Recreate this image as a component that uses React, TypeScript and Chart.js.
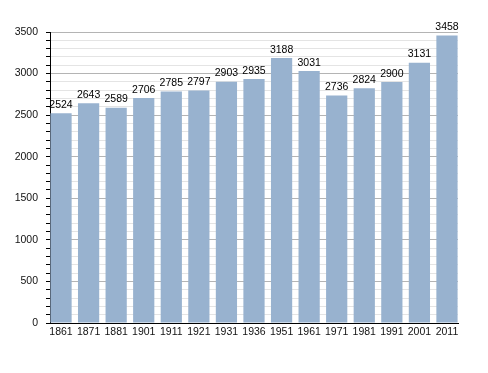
import React, { useEffect, useRef } from "react";
import { Chart, registerables } from "chart.js";

Chart.register(...registerables);

const years = ["1861", "1871", "1881", "1901", "1911", "1921", "1931", "1936", "1951", "1961", "1971", "1981", "1991", "2001", "2011"];
const population = [2524, 2643, 2589, 2706, 2785, 2797, 2903, 2935, 3188, 3031, 2736, 2824, 2900, 3131, 3458];
const yMax = 3500;
const yStep = 100;
const majorStep = 500;

const FONT = "'Liberation Sans', Arial, Helvetica, sans-serif";

const valueLabels = {
  id: "valueLabels",
  afterDatasetsDraw(chart: any) {
    const ctx = chart.ctx;
    const meta = chart.getDatasetMeta(0);
    ctx.save();
    ctx.font = `10.5px ${FONT}`;
    ctx.fillStyle = "#000";
    ctx.textAlign = "center";
    ctx.textBaseline = "bottom";
    meta.data.forEach((el: any, i: number) => {
      ctx.fillText(String(population[i]), el.x, el.y - 3);
    });
    ctx.restore();
  },
};

export default function App() {
  const ref = useRef<HTMLCanvasElement>(null);
  useEffect(() => {
    if (!ref.current) return;
    const chart = new Chart(ref.current, {
      type: "bar",
      data: {
        datasets: [
          {
            data: population.map((v, i) => ({ x: i, y: v })),
            backgroundColor: "#98b2cf",
            borderWidth: 0,
            barPercentage: 0.77,
            categoryPercentage: 1,
          },
        ],
      },
      plugins: [valueLabels],
      options: {
        responsive: false,
        animation: false,
        layout: { padding: { top: 32, right: 30, left: 0, bottom: 0 } },
        plugins: { legend: { display: false }, tooltip: { enabled: false } },
        scales: {
          x: {
            type: "linear",
            min: -0.4,
            max: 14.4,
            offset: false,
            grid: { display: false, drawTicks: false, tickLength: 0 },
            border: { display: true, color: "#000", width: 1 },
            ticks: {
              stepSize: 1,
              includeBounds: false,
              autoSkip: false,
              maxRotation: 0,
              padding: 3,
              color: "#111",
              font: { family: FONT, size: 10.5 },
              callback: (v: any) => (Number.isInteger(v) ? years[v] ?? "" : ""),
            },
            afterFit: (s: any) => {
              s.height = 50;
            },
          },
          y: {
            min: 0,
            max: yMax,
            grid: {
              color: (c: any) => (c.tick && c.tick.value % majorStep === 0 ? "#b4b4b4" : "#e4e4e4"),
              tickColor: "#000",
              tickLength: 4,
              lineWidth: 1,
            },
            border: { display: true, color: "#000", width: 1 },
            ticks: {
              stepSize: yStep,
              autoSkip: false,
              padding: 8,
              color: "#111",
              font: { family: FONT, size: 10.5 },
              callback: (v: any) => (v % majorStep === 0 ? String(v) : ""),
            },
            afterFit: (s: any) => {
              s.width = 50;
            },
          },
        },
      },
    } as any);
    return () => chart.destroy();
  }, []);
  return (
    <div style={{ position: "absolute", left: 0, top: 0, width: 488, height: 373, background: "#fff" }}>
      <canvas ref={ref} width={488} height={373} />
    </div>
  );
}
